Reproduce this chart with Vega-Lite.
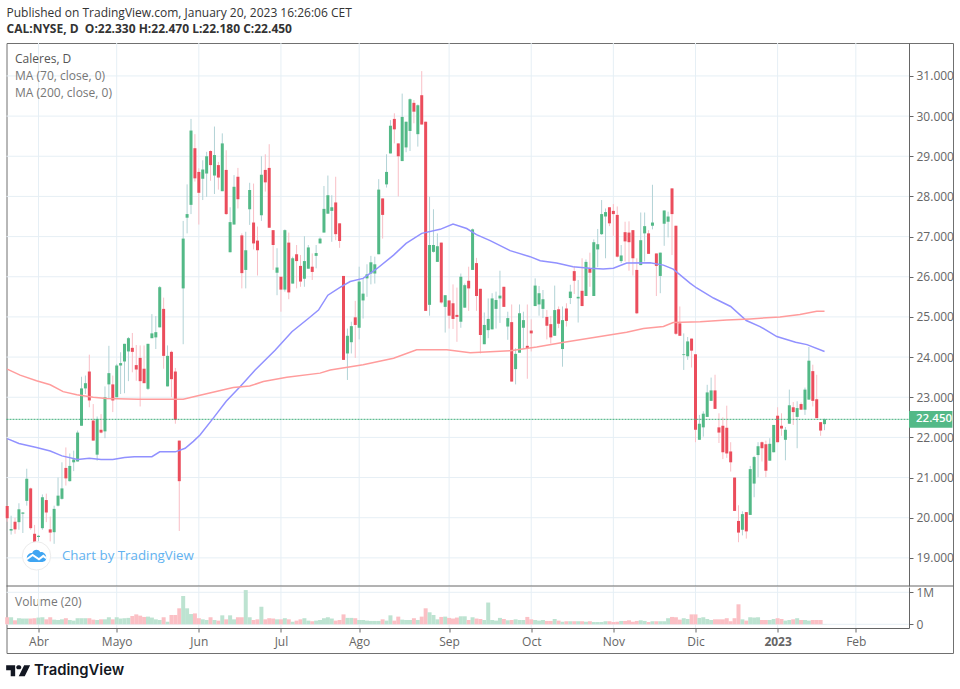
{
"$schema":"https://vega.github.io/schema/vega-lite/v6.json",
"width":946.5,"height":610,
"autosize":{"type":"none"},
"padding":{"left":6.5,"top":43,"right":7,"bottom":36},
"background":"#ffffff",
"config":{"view":{"stroke":"#707070","strokeWidth":1},"font":"Open Sans"},
"title":{"text":"Published on TradingView.com, January 20, 2023 16:26:06 CET","subtitle":"CAL:NYSE, D\u00a0\u00a0O:22.330\u00a0H:22.470\u00a0L:22.180\u00a0C:22.450","anchor":"start","frame":"group","offset":7,"font":"Open Sans","fontSize":12,"fontWeight":"normal","color":"#333333","subtitleFont":"Open Sans","subtitleFontSize":12,"subtitleFontWeight":"bold","subtitleColor":"#333333","subtitlePadding":4},
"datasets":{
"candles":[
{"i":0,"o":20.29,"h":20.3,"l":19.9,"c":19.99,"v":0.22},
{"i":1,"o":19.68,"h":20.05,"l":19.58,"c":19.72,"v":0.22},
{"i":2,"o":19.9,"h":20.0,"l":19.6,"c":19.71,"v":0.125},
{"i":3,"o":19.89,"h":20.36,"l":19.7,"c":20.21,"v":0.19},
{"i":4,"o":20.1,"h":20.14,"l":19.62,"c":20.13,"v":0.18},
{"i":5,"o":20.42,"h":21.22,"l":20.3,"c":20.97,"v":0.18},
{"i":6,"o":20.73,"h":20.75,"l":19.7,"c":19.74,"v":0.18},
{"i":7,"o":19.6,"h":19.82,"l":19.35,"c":19.4,"v":0.19},
{"i":8,"o":19.52,"h":19.57,"l":19.42,"c":19.55,"v":0.21},
{"i":9,"o":19.74,"h":20.58,"l":19.7,"c":20.51,"v":0.22},
{"i":10,"o":20.44,"h":20.6,"l":19.89,"c":20.13,"v":0.155},
{"i":11,"o":19.71,"h":20.03,"l":19.41,"c":19.63,"v":0.22},
{"i":12,"o":19.64,"h":20.3,"l":19.35,"c":20.22,"v":0.145},
{"i":13,"o":20.3,"h":21.0,"l":20.28,"c":20.55,"v":0.135},
{"i":14,"o":20.47,"h":21.38,"l":20.45,"c":20.73,"v":0.155},
{"i":15,"o":21.24,"h":21.75,"l":20.8,"c":20.98,"v":0.19},
{"i":16,"o":20.91,"h":21.6,"l":20.9,"c":21.29,"v":0.135},
{"i":17,"o":21.38,"h":21.67,"l":21.16,"c":21.45,"v":0.115},
{"i":18,"o":21.4,"h":22.17,"l":21.4,"c":22.12,"v":0.19},
{"i":19,"o":22.29,"h":23.51,"l":22.29,"c":23.22,"v":0.19},
{"i":20,"o":23.22,"h":23.54,"l":23.08,"c":23.35,"v":0.19},
{"i":21,"o":23.64,"h":24.06,"l":22.75,"c":22.92,"v":0.19},
{"i":22,"o":22.42,"h":22.83,"l":21.92,"c":21.92,"v":0.145},
{"i":23,"o":21.57,"h":22.52,"l":21.42,"c":22.46,"v":0.135},
{"i":24,"o":22.19,"h":22.58,"l":22.1,"c":22.12,"v":0.155},
{"i":25,"o":22.15,"h":23.27,"l":21.98,"c":23.0,"v":0.155},
{"i":26,"o":23.32,"h":24.28,"l":22.96,"c":23.6,"v":0.22},
{"i":27,"o":23.32,"h":23.54,"l":22.63,"c":22.92,"v":0.155},
{"i":28,"o":23.0,"h":23.83,"l":23.0,"c":23.79,"v":0.22},
{"i":29,"o":23.79,"h":24.12,"l":23.08,"c":23.85,"v":0.18},
{"i":30,"o":23.89,"h":24.33,"l":23.1,"c":24.33,"v":0.19},
{"i":31,"o":24.14,"h":24.5,"l":23.4,"c":24.47,"v":0.2},
{"i":32,"o":24.23,"h":24.6,"l":23.62,"c":24.13,"v":0.26},
{"i":33,"o":23.8,"h":24.3,"l":23.41,"c":23.69,"v":0.31},
{"i":34,"o":23.98,"h":24.29,"l":22.77,"c":23.4,"v":0.27},
{"i":35,"o":23.71,"h":24.29,"l":23.35,"c":23.35,"v":0.23},
{"i":36,"o":23.21,"h":24.33,"l":23.18,"c":24.33,"v":0.24},
{"i":37,"o":24.47,"h":25.07,"l":24.47,"c":24.59,"v":0.21},
{"i":38,"o":24.49,"h":25.02,"l":24.2,"c":24.62,"v":0.155},
{"i":39,"o":24.74,"h":25.77,"l":24.74,"c":25.74,"v":0.135},
{"i":40,"o":25.2,"h":25.48,"l":23.71,"c":24.03,"v":0.22},
{"i":41,"o":23.27,"h":24.29,"l":23.27,"c":24.03,"v":0.08},
{"i":42,"o":24.13,"h":24.16,"l":23.0,"c":23.45,"v":0.29},
{"i":43,"o":23.64,"h":23.73,"l":22.34,"c":22.44,"v":0.29},
{"i":44,"o":21.92,"h":21.92,"l":19.67,"c":20.91,"v":0.5},
{"i":45,"o":25.71,"h":27.39,"l":24.32,"c":26.95,"v":0.885},
{"i":46,"o":27.47,"h":28.3,"l":27.08,"c":27.56,"v":0.5},
{"i":47,"o":27.79,"h":29.93,"l":27.56,"c":29.64,"v":0.32},
{"i":48,"o":29.2,"h":29.55,"l":28.37,"c":28.45,"v":0.34},
{"i":49,"o":28.61,"h":28.7,"l":27.3,"c":28.09,"v":0.19},
{"i":50,"o":28.44,"h":28.9,"l":27.91,"c":28.67,"v":0.155},
{"i":51,"o":28.57,"h":29.11,"l":27.99,"c":29.0,"v":0.135},
{"i":52,"o":29.13,"h":29.15,"l":28.39,"c":28.78,"v":0.22},
{"i":53,"o":28.52,"h":29.74,"l":28.06,"c":29.03,"v":0.135},
{"i":54,"o":28.78,"h":28.86,"l":28.17,"c":28.47,"v":0.115},
{"i":55,"o":28.13,"h":29.57,"l":28.13,"c":29.32,"v":0.28},
{"i":56,"o":28.66,"h":29.15,"l":27.54,"c":27.56,"v":0.155},
{"i":57,"o":26.61,"h":27.73,"l":26.61,"c":27.36,"v":0.28},
{"i":58,"o":27.3,"h":28.53,"l":27.3,"c":28.24,"v":0.155},
{"i":59,"o":28.49,"h":28.71,"l":27.7,"c":27.93,"v":0.22},
{"i":60,"o":27.03,"h":27.08,"l":25.71,"c":26.09,"v":0.22},
{"i":61,"o":26.17,"h":27.12,"l":25.71,"c":26.66,"v":1.07},
{"i":62,"o":27.68,"h":28.34,"l":27.29,"c":28.16,"v":0.22},
{"i":63,"o":27.35,"h":28.32,"l":26.68,"c":26.83,"v":0.135},
{"i":64,"o":26.9,"h":27.25,"l":26.03,"c":26.66,"v":0.155},
{"i":65,"o":27.53,"h":29.0,"l":27.39,"c":28.54,"v":0.55},
{"i":66,"o":28.66,"h":29.05,"l":28.12,"c":28.35,"v":0.155},
{"i":67,"o":28.71,"h":29.3,"l":27.22,"c":27.22,"v":0.19},
{"i":68,"o":27.16,"h":27.16,"l":26.17,"c":26.79,"v":0.18},
{"i":69,"o":26.1,"h":26.71,"l":25.54,"c":26.23,"v":0.155},
{"i":70,"o":26.0,"h":26.0,"l":25.13,"c":25.68,"v":0.155},
{"i":71,"o":25.68,"h":27.18,"l":25.63,"c":27.16,"v":0.19},
{"i":72,"o":26.85,"h":27.1,"l":25.44,"c":25.61,"v":0.155},
{"i":73,"o":25.83,"h":26.5,"l":25.83,"c":26.46,"v":0.08},
{"i":74,"o":26.56,"h":26.79,"l":25.71,"c":26.39,"v":0.115},
{"i":75,"o":26.27,"h":26.54,"l":25.75,"c":25.88,"v":0.155},
{"i":76,"o":25.95,"h":27.01,"l":25.75,"c":26.39,"v":0.19},
{"i":77,"o":26.2,"h":26.79,"l":26.2,"c":26.73,"v":0.115},
{"i":78,"o":26.25,"h":26.58,"l":25.92,"c":26.12,"v":0.095},
{"i":79,"o":26.52,"h":26.79,"l":26.21,"c":26.59,"v":0.115},
{"i":80,"o":26.83,"h":26.98,"l":26.83,"c":26.95,"v":0.135},
{"i":81,"o":27.1,"h":28.26,"l":27.1,"c":27.69,"v":0.19},
{"i":82,"o":27.57,"h":28.52,"l":27.57,"c":28.03,"v":0.22},
{"i":83,"o":27.64,"h":28.03,"l":26.87,"c":27.73,"v":0.18},
{"i":84,"o":27.85,"h":28.49,"l":26.91,"c":27.06,"v":0.115},
{"i":85,"o":27.33,"h":27.33,"l":26.72,"c":26.89,"v":0.135},
{"i":86,"o":26.02,"h":26.02,"l":23.93,"c":23.93,"v":0.31},
{"i":87,"o":24.09,"h":24.71,"l":23.43,"c":24.53,"v":0.2},
{"i":88,"o":24.37,"h":24.88,"l":24.09,"c":24.77,"v":0.2},
{"i":89,"o":24.99,"h":25.4,"l":23.98,"c":24.8,"v":0.19},
{"i":90,"o":24.73,"h":26.25,"l":24.44,"c":25.88,"v":0.135},
{"i":91,"o":25.41,"h":25.96,"l":24.96,"c":25.58,"v":0.135},
{"i":92,"o":25.96,"h":26.31,"l":25.5,"c":26.06,"v":0.115},
{"i":93,"o":26.08,"h":26.52,"l":25.81,"c":26.36,"v":0.105},
{"i":94,"o":26.08,"h":26.5,"l":25.83,"c":26.31,"v":0.105},
{"i":95,"o":26.56,"h":28.43,"l":26.56,"c":28.17,"v":0.105},
{"i":96,"o":27.95,"h":27.95,"l":26.95,"c":27.54,"v":0.155},
{"i":97,"o":28.3,"h":29.05,"l":28.22,"c":28.61,"v":0.115},
{"i":98,"o":29.07,"h":29.9,"l":29.07,"c":29.76,"v":0.28},
{"i":99,"o":29.93,"h":30.07,"l":29.32,"c":29.67,"v":0.115},
{"i":100,"o":29.32,"h":29.32,"l":28.0,"c":29.0,"v":0.24},
{"i":101,"o":28.88,"h":30.56,"l":28.88,"c":29.98,"v":0.145},
{"i":102,"o":29.22,"h":29.86,"l":29.1,"c":29.86,"v":0.135},
{"i":103,"o":29.63,"h":30.44,"l":29.13,"c":30.42,"v":0.135},
{"i":104,"o":30.33,"h":30.4,"l":29.82,"c":30.11,"v":0.19},
{"i":105,"o":29.55,"h":30.29,"l":29.24,"c":30.27,"v":0.135},
{"i":106,"o":30.52,"h":31.12,"l":29.79,"c":29.79,"v":0.24},
{"i":107,"o":29.86,"h":29.86,"l":25.15,"c":25.15,"v":0.5},
{"i":108,"o":25.3,"h":27.99,"l":25.03,"c":26.79,"v":0.375},
{"i":109,"o":26.62,"h":27.68,"l":26.6,"c":26.79,"v":0.29},
{"i":110,"o":26.37,"h":27.08,"l":26.37,"c":26.76,"v":0.155},
{"i":111,"o":26.85,"h":26.85,"l":25.33,"c":25.36,"v":0.23},
{"i":112,"o":25.25,"h":25.54,"l":24.61,"c":25.54,"v":0.24},
{"i":113,"o":25.41,"h":25.41,"l":24.71,"c":25.03,"v":0.2},
{"i":114,"o":25.34,"h":25.81,"l":24.7,"c":24.95,"v":0.18},
{"i":115,"o":25.05,"h":25.73,"l":24.38,"c":25.0,"v":0.21},
{"i":116,"o":24.88,"h":26.08,"l":24.73,"c":26.0,"v":0.25},
{"i":117,"o":25.23,"h":25.83,"l":25.23,"c":25.79,"v":0.25},
{"i":118,"o":25.9,"h":26.25,"l":25.15,"c":25.71,"v":0.135},
{"i":119,"o":26.17,"h":27.2,"l":26.17,"c":27.18,"v":0.22},
{"i":120,"o":26.34,"h":26.47,"l":25.15,"c":25.52,"v":0.18},
{"i":121,"o":25.7,"h":25.7,"l":24.09,"c":24.55,"v":0.165},
{"i":122,"o":24.32,"h":25.11,"l":24.32,"c":24.8,"v":0.135},
{"i":123,"o":24.67,"h":25.46,"l":24.47,"c":24.95,"v":0.68},
{"i":124,"o":24.69,"h":25.59,"l":24.69,"c":25.46,"v":0.135},
{"i":125,"o":25.2,"h":25.63,"l":24.71,"c":25.42,"v":0.115},
{"i":126,"o":25.46,"h":26.15,"l":24.85,"c":25.53,"v":0.2},
{"i":127,"o":25.75,"h":25.75,"l":25.25,"c":25.25,"v":0.165},
{"i":128,"o":24.76,"h":25.13,"l":24.43,"c":24.97,"v":0.125},
{"i":129,"o":24.87,"h":25.31,"l":23.39,"c":23.39,"v":0.135},
{"i":130,"o":23.7,"h":24.22,"l":23.32,"c":24.08,"v":0.155},
{"i":131,"o":24.11,"h":25.31,"l":24.11,"c":25.09,"v":0.135},
{"i":132,"o":24.73,"h":25.13,"l":24.2,"c":24.92,"v":0.135},
{"i":133,"o":24.28,"h":25.31,"l":23.46,"c":24.22,"v":0.23},
{"i":134,"o":24.66,"h":24.94,"l":24.14,"c":24.59,"v":0.155},
{"i":135,"o":25.27,"h":25.96,"l":25.27,"c":25.78,"v":0.135},
{"i":136,"o":25.31,"h":25.77,"l":25.03,"c":25.59,"v":0.115},
{"i":137,"o":25.2,"h":25.67,"l":24.97,"c":25.44,"v":0.135},
{"i":138,"o":25.0,"h":25.17,"l":24.44,"c":24.78,"v":0.105},
{"i":139,"o":24.82,"h":25.02,"l":24.34,"c":24.49,"v":0.105},
{"i":140,"o":24.53,"h":25.78,"l":24.53,"c":25.17,"v":0.165},
{"i":141,"o":25.19,"h":25.26,"l":24.72,"c":24.83,"v":0.115},
{"i":142,"o":24.2,"h":25.26,"l":23.76,"c":24.92,"v":0.08},
{"i":143,"o":25.21,"h":25.34,"l":24.76,"c":24.9,"v":0.095},
{"i":144,"o":25.47,"h":25.8,"l":25.32,"c":25.63,"v":0.095},
{"i":145,"o":26.14,"h":26.27,"l":25.57,"c":25.9,"v":0.095},
{"i":146,"o":25.46,"h":25.92,"l":24.86,"c":25.5,"v":0.095},
{"i":147,"o":25.65,"h":26.46,"l":25.27,"c":25.27,"v":0.095},
{"i":148,"o":25.52,"h":26.43,"l":25.52,"c":26.37,"v":0.08},
{"i":149,"o":26.21,"h":26.6,"l":25.75,"c":26.1,"v":0.095},
{"i":150,"o":25.52,"h":26.93,"l":25.52,"c":26.86,"v":0.07},
{"i":151,"o":26.68,"h":27.19,"l":26.24,"c":26.81,"v":0.07},
{"i":152,"o":27.06,"h":27.91,"l":27.04,"c":27.56,"v":0.07},
{"i":153,"o":27.5,"h":27.7,"l":26.46,"c":27.61,"v":0.095},
{"i":154,"o":27.73,"h":27.73,"l":27.26,"c":27.33,"v":0.095},
{"i":155,"o":27.64,"h":27.81,"l":27.02,"c":27.56,"v":0.07},
{"i":156,"o":27.54,"h":27.75,"l":26.48,"c":26.5,"v":0.08},
{"i":157,"o":26.39,"h":26.79,"l":26.34,"c":26.53,"v":0.105},
{"i":158,"o":27.11,"h":27.37,"l":26.38,"c":26.88,"v":0.105},
{"i":159,"o":27.1,"h":27.38,"l":26.15,"c":26.86,"v":0.125},
{"i":160,"o":27.16,"h":27.16,"l":26.03,"c":26.46,"v":0.08},
{"i":161,"o":26.17,"h":26.46,"l":25.07,"c":25.09,"v":0.105},
{"i":162,"o":26.29,"h":27.6,"l":26.29,"c":26.91,"v":0.125},
{"i":163,"o":27.08,"h":27.6,"l":26.38,"c":27.26,"v":0.105},
{"i":164,"o":27.08,"h":27.16,"l":26.57,"c":26.57,"v":0.07},
{"i":165,"o":27.27,"h":28.29,"l":27.18,"c":27.35,"v":0.095},
{"i":166,"o":26.58,"h":26.58,"l":25.52,"c":26.27,"v":0.095},
{"i":167,"o":26.02,"h":26.6,"l":25.59,"c":26.6,"v":0.095},
{"i":168,"o":27.32,"h":27.65,"l":26.77,"c":27.65,"v":0.095},
{"i":169,"o":27.37,"h":27.62,"l":26.98,"c":27.5,"v":0.19},
{"i":170,"o":28.2,"h":28.2,"l":26.54,"c":27.56,"v":0.23},
{"i":171,"o":27.27,"h":27.27,"l":24.55,"c":24.58,"v":0.22},
{"i":172,"o":24.84,"h":25.26,"l":24.53,"c":24.53,"v":0.145},
{"i":173,"o":24.05,"h":24.59,"l":23.68,"c":24.07,"v":0.19},
{"i":174,"o":24.02,"h":24.5,"l":23.93,"c":24.39,"v":0.165},
{"i":175,"o":24.46,"h":24.46,"l":23.74,"c":24.16,"v":0.31},
{"i":176,"o":24.07,"h":24.07,"l":21.88,"c":22.19,"v":0.31},
{"i":177,"o":21.94,"h":22.56,"l":21.94,"c":22.34,"v":0.2},
{"i":178,"o":22.25,"h":22.65,"l":22.02,"c":22.59,"v":0.22},
{"i":179,"o":22.51,"h":23.31,"l":22.51,"c":23.12,"v":0.165},
{"i":180,"o":22.91,"h":23.49,"l":22.91,"c":23.17,"v":0.135},
{"i":181,"o":23.17,"h":23.56,"l":22.71,"c":22.71,"v":0.155},
{"i":182,"o":22.25,"h":22.6,"l":21.86,"c":22.12,"v":0.155},
{"i":183,"o":22.29,"h":22.5,"l":21.46,"c":21.63,"v":0.155},
{"i":184,"o":22.24,"h":22.79,"l":21.49,"c":21.6,"v":0.19},
{"i":185,"o":21.65,"h":21.88,"l":21.15,"c":21.38,"v":0.095},
{"i":186,"o":21.0,"h":21.0,"l":20.17,"c":20.17,"v":0.19},
{"i":187,"o":19.92,"h":20.31,"l":19.39,"c":19.63,"v":0.625},
{"i":188,"o":19.7,"h":20.16,"l":19.56,"c":20.09,"v":0.155},
{"i":189,"o":20.14,"h":20.14,"l":19.48,"c":19.66,"v":0.115},
{"i":190,"o":20.07,"h":21.29,"l":20.07,"c":21.21,"v":0.22},
{"i":191,"o":20.85,"h":21.54,"l":20.51,"c":21.51,"v":0.21},
{"i":192,"o":21.56,"h":21.88,"l":21.01,"c":21.78,"v":0.22},
{"i":193,"o":21.88,"h":21.9,"l":21.4,"c":21.73,"v":0.135},
{"i":194,"o":21.83,"h":21.92,"l":21.01,"c":21.17,"v":0.135},
{"i":195,"o":21.42,"h":21.98,"l":21.42,"c":21.84,"v":0.135},
{"i":196,"o":21.63,"h":22.31,"l":21.63,"c":22.31,"v":0.165},
{"i":197,"o":22.54,"h":22.75,"l":21.88,"c":21.88,"v":0.19},
{"i":198,"o":22.29,"h":22.6,"l":22.04,"c":22.22,"v":0.165},
{"i":199,"o":21.94,"h":22.26,"l":21.43,"c":22.19,"v":0.115},
{"i":200,"o":22.34,"h":23.19,"l":22.34,"c":22.8,"v":0.135},
{"i":201,"o":22.75,"h":22.88,"l":22.31,"c":22.63,"v":0.155},
{"i":202,"o":22.51,"h":22.9,"l":21.73,"c":22.73,"v":0.19},
{"i":203,"o":22.83,"h":22.87,"l":22.69,"c":22.69,"v":0.135},
{"i":204,"o":22.69,"h":23.24,"l":22.56,"c":23.19,"v":0.135},
{"i":205,"o":22.94,"h":24.25,"l":22.94,"c":23.91,"v":0.115},
{"i":206,"o":23.65,"h":23.81,"l":22.77,"c":22.91,"v":0.135},
{"i":207,"o":22.95,"h":23.56,"l":22.48,"c":22.48,"v":0.135},
{"i":208,"o":22.38,"h":22.38,"l":22.04,"c":22.17,"v":0.135},
{"i":209,"o":22.33,"h":22.47,"l":22.18,"c":22.45,"v":0.005}
],
"ma70":[
{"i":0,"p":21.97},{"i":3,"p":21.85},{"i":7.5,"p":21.75},{"i":11,"p":21.66},{"i":14,"p":21.54},{"i":18,"p":21.45},{"i":21,"p":21.48},{"i":24,"p":21.45},{"i":27,"p":21.45},{"i":30,"p":21.5},{"i":32.5,"p":21.52},{"i":37,"p":21.52},{"i":39,"p":21.64},{"i":43,"p":21.64},{"i":45.5,"p":21.73},{"i":47.6,"p":21.9},{"i":49.3,"p":22.06},{"i":52.7,"p":22.48},{"i":56,"p":22.9},{"i":59.6,"p":23.27},{"i":63.4,"p":23.68},{"i":68.5,"p":24.17},{"i":72.8,"p":24.63},{"i":77,"p":24.96},{"i":79.6,"p":25.17},{"i":82,"p":25.54},{"i":85,"p":25.73},{"i":87.7,"p":25.88},{"i":91,"p":25.96},{"i":94.5,"p":26.2},{"i":98.8,"p":26.54},{"i":102,"p":26.83},{"i":106,"p":27.08},{"i":110.7,"p":27.18},{"i":114,"p":27.31},{"i":117.5,"p":27.2},{"i":120,"p":27.05},{"i":123.5,"p":26.9},{"i":128.6,"p":26.65},{"i":133.7,"p":26.5},{"i":136.3,"p":26.4},{"i":140.5,"p":26.34},{"i":144.7,"p":26.25},{"i":149,"p":26.21},{"i":152.4,"p":26.19},{"i":155,"p":26.21},{"i":158.4,"p":26.34},{"i":164.4,"p":26.35},{"i":167.8,"p":26.29},{"i":170.3,"p":26.19},{"i":174.6,"p":25.84},{"i":176.3,"p":25.72},{"i":180.6,"p":25.47},{"i":185,"p":25.26},{"i":189,"p":24.91},{"i":192.5,"p":24.76},{"i":196.8,"p":24.51},{"i":201.6,"p":24.37},{"i":204.5,"p":24.31},{"i":209,"p":24.14}
],
"ma200":[
{"i":0,"p":23.7},{"i":3.3,"p":23.55},{"i":7.5,"p":23.41},{"i":11,"p":23.31},{"i":14.3,"p":23.14},{"i":17.8,"p":23.06},{"i":22,"p":23.0},{"i":25.4,"p":22.97},{"i":33.5,"p":22.95},{"i":45,"p":22.95},{"i":49.3,"p":23.05},{"i":57.8,"p":23.24},{"i":62,"p":23.28},{"i":65.5,"p":23.39},{"i":71.5,"p":23.5},{"i":80,"p":23.6},{"i":82.6,"p":23.68},{"i":91,"p":23.81},{"i":98.8,"p":23.97},{"i":104.7,"p":24.18},{"i":112.4,"p":24.18},{"i":118.4,"p":24.11},{"i":128.6,"p":24.16},{"i":135.4,"p":24.25},{"i":142,"p":24.36},{"i":150.8,"p":24.5},{"i":158.4,"p":24.62},{"i":162.7,"p":24.71},{"i":167.8,"p":24.76},{"i":170.3,"p":24.86},{"i":177.2,"p":24.88},{"i":184,"p":24.92},{"i":190,"p":24.95},{"i":197.6,"p":25.0},{"i":202.7,"p":25.06},{"i":207,"p":25.14},{"i":209,"p":25.14}
],
"xticks":[{"i":8},{"i":28},{"i":49},{"i":70},{"i":90},{"i":113},{"i":134},{"i":155},{"i":176},{"i":197},{"i":217}],
"pgrid":[{"p":19},{"p":20},{"p":21},{"p":22},{"p":23},{"p":24},{"p":25},{"p":26},{"p":27},{"p":28},{"p":29},{"p":30},{"p":31}],
"vgrid":[{"v":0},{"v":1}],
"legend":[{"i":2,"p":31.0,"t":"MA (70, close, 0)"},{"i":2,"p":30.58,"t":"MA (200, close, 0)"},{"i":2,"p":17.91,"t":"Volume (20)"}]
},
"layer":[
{"layer":[
{"data":{"name":"xticks"},"mark":{"type":"rule","color":"#e6eff5","strokeWidth":1},
 "encoding":{"x":{"field":"i","type":"quantitative","scale":{"domain":[-0.18,230.6],"range":[0,902.5],"nice":false,"zero":false,"padding":0},
   "axis":{"title":null,"orient":"bottom","offset":-25,"values":[8,28,49,70,90,113,134,155,176,197,217],"labelExpr":"['Abr','Mayo','Jun','Jul','Ago','Sep','Oct','Nov','Dic','2023','Feb'][indexof([8,28,49,70,90,113,134,155,176,197,217],datum.value)]","grid":false,"domainColor":"#666666","tickColor":"#666666","tickSize":4,"labelFontSize":12,"labelColor":"#666666","labelFont":"Open Sans","labelPadding":4,"labelFontWeight":{"condition":{"test":"datum.value==197","value":"bold"},"value":"normal"},"labelFlush":false,"labelOverlap":false}},
  "y":{"datum":18.3,"type":"quantitative","scale":{"domain":[18.3,31.82],"range":[543,0],"nice":false,"zero":false,"padding":0},
   "axis":{"title":null,"orient":"right","offset":-44,"values":[19,20,21,22,23,24,25,26,27,28,29,30,31],"format":".3f","grid":false,"domainColor":"#666666","tickColor":"#666666","tickSize":4,"labelFontSize":12,"labelColor":"#666666","labelFont":"Open Sans","labelPadding":3}},
  "y2":{"datum":31.82}}},
{"data":{"name":"pgrid"},"mark":{"type":"rule","color":"#e6eff5","strokeWidth":1},
 "encoding":{"y":{"field":"p","type":"quantitative"},"x":{"datum":-0.18},"x2":{"datum":230.6}}},
{"data":{"name":"candles"},"mark":{"type":"rule","strokeWidth":1},
 "encoding":{"x":{"field":"i","type":"quantitative"},"y":{"field":"l","type":"quantitative"},"y2":{"field":"h"},
  "color":{"condition":{"test":"datum.c>=datum.o","value":"#b2d3d6"},"value":"#f9bfc6"}}},
{"data":{"name":"candles"},"mark":{"type":"bar","size":3},
 "encoding":{"x":{"field":"i","type":"quantitative"},"y":{"field":"o","type":"quantitative"},"y2":{"field":"c"},
  "color":{"condition":{"test":"datum.c>=datum.o","value":"#53b987"},"value":"#eb4d5c"}}},
{"data":{"values":[{"p":22.45}]},"mark":{"type":"rule","color":"#3fae7a","strokeWidth":1,"strokeDash":[2,1]},
 "encoding":{"y":{"field":"p","type":"quantitative"},"x":{"datum":-0.18},"x2":{"datum":230.6}}},
{"data":{"name":"ma70"},"mark":{"type":"line","color":"#9191ff","strokeWidth":1.5},
 "encoding":{"x":{"field":"i","type":"quantitative"},"y":{"field":"p","type":"quantitative"}}},
{"data":{"name":"ma200"},"mark":{"type":"line","color":"#ff9c9c","strokeWidth":1.5},
 "encoding":{"x":{"field":"i","type":"quantitative"},"y":{"field":"p","type":"quantitative"}}},
{"data":{"values":[{"p":18.3}]},"mark":{"type":"rule","color":"#666666","strokeWidth":1},
 "encoding":{"y":{"field":"p","type":"quantitative"},"x":{"datum":-0.18},"x2":{"datum":241.9}}},
{"data":{"values":[{"a":230.6,"b":241.7,"p":22.24,"q":22.66}]},"mark":{"type":"rect","color":"#53b987"},
 "encoding":{"x":{"field":"a","type":"quantitative"},"x2":{"field":"b"},"y":{"field":"p","type":"quantitative"},"y2":{"field":"q"}}},
{"data":{"values":[{"i":232.4,"p":22.45,"t":"22.450"}]},"mark":{"type":"text","align":"left","baseline":"middle","color":"#ffffff","fontSize":11.5,"fontWeight":600,"font":"Open Sans"},
 "encoding":{"x":{"field":"i","type":"quantitative"},"y":{"field":"p","type":"quantitative"},"text":{"field":"t"}}},
{"data":{"values":[{"i":2,"p":31.42,"t":"Caleres, D"}]},"mark":{"type":"text","align":"left","baseline":"middle","color":"#555555","fontSize":12,"font":"Open Sans"},
 "encoding":{"x":{"field":"i","type":"quantitative"},"y":{"field":"p","type":"quantitative"},"text":{"field":"t"}}},
{"data":{"name":"legend"},"mark":{"type":"text","align":"left","baseline":"middle","color":"#777777","fontSize":12,"font":"Open Sans"},
 "encoding":{"x":{"field":"i","type":"quantitative"},"y":{"field":"p","type":"quantitative"},"text":{"field":"t"}}},
{"data":{"values":[{"i":7.5,"p":19.05}]},"mark":{"type":"point","shape":"circle","size":804,"filled":true,"fill":"#ffffff","stroke":"#ececec","strokeWidth":1,"opacity":1},
 "encoding":{"x":{"field":"i","type":"quantitative"},"y":{"field":"p","type":"quantitative"}}},
{"data":{"values":[{"i":7.5,"p":19.05}]},"mark":{"type":"point","shape":"M-1 0.25C-1 -0.1 -0.75 -0.3 -0.45 -0.3C-0.3 -0.7 0.2 -0.75 0.38 -0.38C0.7 -0.45 1 -0.15 1 0.2C1 0.5 0.8 0.62 0.6 0.62L-0.6 0.62C-0.85 0.62 -1 0.5 -1 0.25Z","size":380,"filled":true,"fill":"#3fa5f2","opacity":1,"strokeWidth":0},
 "encoding":{"x":{"field":"i","type":"quantitative"},"y":{"field":"p","type":"quantitative"}}},
{"data":{"values":[{"i":7.5,"p":19.05}]},"mark":{"type":"point","shape":"M-1 0.35L-0.4 -0.1L0.25 0.35L0.7 0L1 0.25","size":380,"filled":false,"stroke":"#ffffff","strokeWidth":2,"opacity":1},
 "encoding":{"x":{"field":"i","type":"quantitative"},"y":{"field":"p","type":"quantitative"}}},
{"data":{"values":[{"i":14,"p":19.05,"t":"Chart by TradingView"}]},"mark":{"type":"text","align":"left","baseline":"middle","color":"#62b2f0","fontSize":13.3,"font":"Open Sans"},
 "encoding":{"x":{"field":"i","type":"quantitative"},"y":{"field":"p","type":"quantitative"},"text":{"field":"t"}}},
{"data":{"values":[{"i":2.8,"p":16.19}]},"mark":{"type":"point","shape":"M-1 -0.45L-0.25 -0.45L-0.25 0.45L-0.62 0.45L-0.62 -0.05L-1 -0.05ZM0.05 -0.45A0.17 0.17 0 1 1 0.05 -0.12A0.17 0.17 0 1 1 0.05 -0.45ZM0.5 -0.45L1 -0.45L0.55 0.45L0.05 0.45Z","size":576,"filled":true,"fill":"#131722","opacity":1,"strokeWidth":0},
 "encoding":{"x":{"field":"i","type":"quantitative"},"y":{"field":"p","type":"quantitative"}}},
{"data":{"values":[{"i":6.85,"p":16.19,"t":"TradingView"}]},"mark":{"type":"text","align":"left","baseline":"middle","color":"#131722","fontSize":14.8,"fontWeight":600,"font":"Inter"},
 "encoding":{"x":{"field":"i","type":"quantitative"},"y":{"field":"p","type":"quantitative"},"text":{"field":"t"}}}
]},
{"layer":[
{"data":{"name":"vgrid"},"mark":{"type":"rule","color":"#e6eff5","strokeWidth":1},
 "encoding":{"y":{"field":"v","type":"quantitative","scale":{"domain":[-0.116,1.166],"range":[585,544],"nice":false,"zero":false,"padding":0},
   "axis":{"title":null,"orient":"right","offset":-44,"values":[0,1],"labelExpr":"datum.value==1?'1M':'0'","grid":false,"domainColor":"#666666","tickColor":"#666666","tickSize":4,"labelFontSize":12,"labelColor":"#666666","labelFont":"Open Sans","labelPadding":3}},
  "x":{"datum":-0.18},"x2":{"datum":230.6}}},
{"data":{"name":"xticks"},"mark":{"type":"rule","color":"#e6eff5","strokeWidth":1},
 "encoding":{"x":{"field":"i","type":"quantitative"},"y":{"datum":-0.116},"y2":{"datum":1.166}}},
{"data":{"name":"candles"},"mark":{"type":"bar","size":4},
 "encoding":{"x":{"field":"i","type":"quantitative"},"y":{"field":"v","type":"quantitative"},"y2":{"datum":0},
  "color":{"condition":{"test":"datum.c>=datum.o","value":"#bde3d1"},"value":"#fbc0c5"}}}
]}
],
"resolve":{"scale":{"y":"independent"},"axis":{"y":"independent"}}
}
